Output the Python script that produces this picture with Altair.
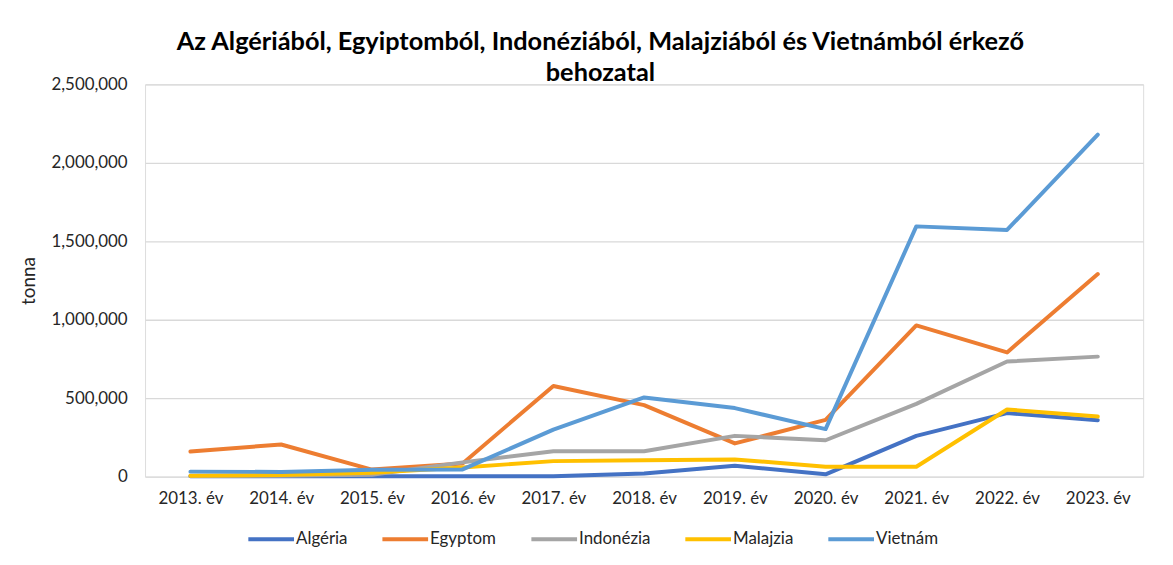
import altair as alt
import pandas as pd

years = ["2013. év", "2014. év", "2015. év", "2016. év", "2017. év", "2018. év",
         "2019. év", "2020. év", "2021. év", "2022. év", "2023. év"]
series = ["Algéria", "Egyptom", "Indonézia", "Malajzia", "Vietnám"]
colors = ["#4472C4", "#ED7D31", "#A5A5A5", "#FFC000", "#5B9BD5"]

algeria = [2000, 2000, 2000, 2000, 2000, 20000, 70000, 15000, 260000, 405000, 360000]
egyptom = [160000, 205000, 45000, 84000, 578000, 456000, 212000, 362000, 964000, 792000, 1291000]
indonezia = [4000, 6000, 12000, 91000, 162000, 162000, 260000, 232000, 464000, 734000, 765000]
malajzia = [6000, 10000, 25000, 59000, 99000, 105000, 110000, 63000, 63000, 428000, 383000]
vietnam = [32000, 30000, 44000, 46000, 300000, 505000, 437000, 303000, 1595000, 1572000, 2180000]

values = [algeria, egyptom, indonezia, malajzia, vietnam]
rows = []
for s, vals in zip(series, values):
    for i, (y, v) in enumerate(zip(years, vals)):
        rows.append({"ev": y, "orszag": s, "tonna": v})
df = pd.DataFrame(rows)

FONT = "Lato"
LBL = "#262626"

chart = alt.Chart(df).mark_line(strokeWidth=4, strokeCap="round", strokeJoin="round").encode(
    x=alt.X("ev:N", sort=years, title=None,
            scale=alt.Scale(type="point", padding=0.5),
            axis=alt.Axis(labelAngle=0, labelFontSize=17, labelColor=LBL,
                          labelPadding=14, domain=False, ticks=False, grid=False,
                          labelFont=FONT)),
    y=alt.Y("tonna:Q", title="tonna",
            scale=alt.Scale(domain=[0, 2500000], nice=False),
            axis=alt.Axis(values=[0, 500000, 1000000, 1500000, 2000000, 2500000],
                          format=",d", labelFontSize=17, labelColor=LBL,
                          labelFont=FONT, labelPadding=18,
                          domain=False, ticks=False, gridColor="#D9D9D9",
                          gridWidth=1.3, titleFontSize=19, titleFont=FONT,
                          titleFontWeight="normal", titleColor=LBL,
                          titlePadding=13)),
    color=alt.Color("orszag:N", sort=series, title=None,
                    scale=alt.Scale(domain=series, range=colors),
                    legend=alt.Legend(orient="none", legendX=102, legendY=433,
                                      direction="horizontal",
                                      symbolType="stroke", symbolStrokeWidth=4,
                                      symbolSize=2116, labelFontSize=17,
                                      labelFont=FONT, labelColor=LBL,
                                      columnPadding=27, labelOffset=0)),
).properties(
    width=1005, height=395,
    title=alt.Title(["Az Algériából, Egyiptomból, Indonéziából, Malajziából és Vietnámból érkező",
                     "behozatal"],
                    fontSize=25.5, font=FONT, fontWeight="bold", color="#000000",
                    anchor="middle", frame="group", dx=-44, lineHeight=31, offset=-11),
    padding={"left": 138, "top": 75, "right": 22, "bottom": 79},
    autosize=alt.AutoSizeParams(type="none"),
).configure_view(stroke=None).configure(background="white")

chart.save("out.html", embed_options={"renderer": "svg", "actions": False})
